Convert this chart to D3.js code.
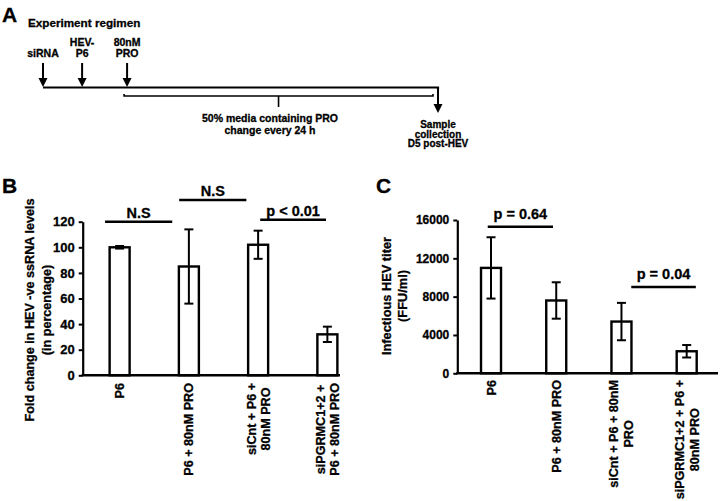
<!DOCTYPE html>
<html>
<head>
<meta charset="utf-8">
<script src="https://cdn.jsdelivr.net/npm/d3@7"></script>
<style>
  body { margin: 0; background: #fff; }
  svg { display: block; font-family: Arial, "Liberation Sans", sans-serif; font-weight: bold; }
  svg text { stroke: #000; stroke-width: 0.3px; }
</style>
</head>
<body>
<script>
// ---- data ----
const groups = ["P6", "P6 + 80nM PRO", "siCnt + P6 + 80nM PRO", "siPGRMC1+2 + P6 + 80nM PRO"];
const labelsB = [["P6"], ["P6 + 80nM PRO"], ["siCnt + P6 +", "80nM PRO"], ["siPGRMC1+2 +", "P6 + 80nM PRO"]];
const labelsC = [["P6"], ["P6 + 80nM PRO"], ["siCnt + P6 + 80nM", "PRO"], ["siPGRMC1+2 + P6 +", "80nM PRO"]];

const valuesB = [100, 85, 102, 32];
const errorsB = [1, 29, 11, 6];
const ticksB = [0, 20, 40, 60, 80, 100, 120];

const valuesC = [11000, 7600, 5400, 2300];
const errorsC = [3200, 1900, 1950, 650];
const ticksC = [0, 4000, 8000, 12000, 16000];

// significance bars: start/end in group index units, height in data units
const sigB = [
  { from: -0.21, to: 0.76, level: 120, text: "N.S" },
  { from: 0.86, to: 1.83, level: 137, text: "N.S" },
  { from: 2.03, to: 2.98, level: 121.5, text: "p < 0.01" }
];
const sigC = [
  { from: -0.05, to: 0.95, level: 15300, text: "p = 0.64" },
  { from: 2.15, to: 3.14, level: 9000, text: "p = 0.04" }
];

// experiment regimen timeline (arbitrary time units)
const regimenEvents = [["siRNA"], ["HEV-", "P6"], ["80nM", "PRO"]];
const regimenTimes = [0, 1, 2.15];
const sampleTime = 10.1;
const mediaText = ["50% media containing PRO", "change every 24 h"];
const sampleText = ["Sample", "collection", "D5 post-HEV"];

const W = 720, H = 501;
const svg = d3.select("body").append("svg").attr("width", W).attr("height", H);

// panel letters
svg.append("text").attr("x", 2).attr("y", 22).attr("font-size", 21).text("A");
svg.append("text").attr("x", 2).attr("y", 193).attr("font-size", 21).text("B");
svg.append("text").attr("x", 376).attr("y", 193).attr("font-size", 21).text("C");

// ---- panel A ----
const tx = d3.scaleLinear().domain([0, sampleTime]).range([43, 438]);
const lineY = 87.5;
const gA = svg.append("g");
gA.append("text").attr("x", 28).attr("y", 27).attr("font-size", 11.7).text("Experiment  regimen");

function arrowDown(g, x, y0, y1) {
  g.append("line").attr("x1", x).attr("x2", x).attr("y1", y0).attr("y2", y1 - 7)
    .attr("stroke", "#000").attr("stroke-width", 2);
  g.append("path").attr("d", `M${x - 4.5},${y1 - 9}L${x + 4.5},${y1 - 9}L${x},${y1}Z`).attr("fill", "#000");
}

regimenEvents.forEach((lines, i) => {
  const x = tx(regimenTimes[i]);
  const t = gA.append("text").attr("text-anchor", "middle").attr("font-size", 10.5);
  lines.forEach((l, j) => {
    t.append("tspan").attr("x", x).attr("y", 57 - (lines.length - 1 - j) * 11.5).text(l);
  });
  arrowDown(gA, x, 63, 87);
});
gA.append("path")
  .attr("d", `M${tx(0)},${lineY}H${tx(sampleTime)}V${lineY + 2}`)
  .attr("fill", "none").attr("stroke", "#000").attr("stroke-width", 2.2);
arrowDown(gA, tx(sampleTime), lineY, 113);

// bracket for media change
const bx0 = tx(regimenTimes[2]) - 3, bx1 = tx(sampleTime) - 5, bY = 96;
gA.append("path")
  .attr("d", `M${bx0},${bY - 2}V${bY}H${bx1}V${bY - 2}M${(bx0 + bx1) / 2},${bY}V${bY + 11}`)
  .attr("fill", "none").attr("stroke", "#000").attr("stroke-width", 1.6);
const mt = gA.append("text").attr("text-anchor", "middle").attr("font-size", 10.5);
mediaText.forEach((l, j) => mt.append("tspan").attr("x", 270).attr("y", 122 + j * 11.5).text(l));
const st = gA.append("text").attr("text-anchor", "middle").attr("font-size", 10);
sampleText.forEach((l, j) => st.append("tspan").attr("x", tx(sampleTime)).attr("y", 128 + j * 9.6).text(l));

// ---- bar panels ----
function barPanel(opt) {
  const g = svg.append("g");
  const x = d3.scalePoint().domain(groups).range(opt.xRange).padding(0.5);
  const step = x.step();
  const y = d3.scaleLinear().domain(opt.yDomain).range(opt.yRange);
  const bw = 20;

  // y axis
  const ya = g.append("g").attr("transform", `translate(${opt.axisX},0)`)
    .call(d3.axisLeft(y).tickValues(opt.ticks).tickFormat(d3.format("d"))
      .tickSize(4).tickSizeOuter(0).tickPadding(4));
  ya.select(".domain").attr("stroke-width", 2.2);
  ya.selectAll(".tick line").attr("stroke-width", 2);
  ya.selectAll(".tick text").attr("font-size", opt.tickSize).attr("font-family", null).attr("font-weight", "bold");

  // bars
  g.selectAll("rect.bar").data(opt.values).join("rect").attr("class", "bar")
    .attr("x", (d, i) => x(groups[i]) - bw / 2)
    .attr("width", bw)
    .attr("y", d => y(d))
    .attr("height", d => y(0) - y(d))
    .attr("fill", "#fff").attr("stroke", "#000").attr("stroke-width", 2.4);

  // error bars
  const eg = g.selectAll("g.err").data(opt.values).join("g").attr("class", "err")
    .attr("stroke", "#000").attr("stroke-width", 2);
  eg.append("line")
    .attr("x1", (d, i) => x(groups[i])).attr("x2", (d, i) => x(groups[i]))
    .attr("y1", (d, i) => y(d + opt.errors[i])).attr("y2", (d, i) => y(d - opt.errors[i]));
  [1, -1].forEach(s => {
    eg.append("line")
      .attr("x1", (d, i) => x(groups[i]) - 4.5).attr("x2", (d, i) => x(groups[i]) + 4.5)
      .attr("y1", (d, i) => y(d + s * opt.errors[i])).attr("y2", (d, i) => y(d + s * opt.errors[i]));
  });

  // x axis line
  g.append("line").attr("x1", opt.axisX - 1).attr("x2", opt.axisEnd)
    .attr("y1", y(0)).attr("y2", y(0)).attr("stroke", "#000").attr("stroke-width", 2.4);

  // x labels (rotated, lines centred on each other)
  opt.labels.forEach((lines, i) => {
    const lg = g.append("g").attr("transform", `translate(${x(groups[i])},${opt.labelTop}) rotate(-90)`);
    const texts = lines.map((l, j) => lg.append("text")
      .attr("font-size", 12.6).attr("text-anchor", "middle")
      .attr("y", (j - (lines.length - 1) / 2) * opt.lineGap + 4.5).text(l));
    const maxLen = d3.max(texts, t => t.node().getComputedTextLength());
    texts.forEach(t => t.attr("x", -maxLen / 2));
  });

  // significance bars
  const x0 = x(groups[0]);
  opt.sig.forEach(s => {
    g.append("line")
      .attr("x1", x0 + s.from * step).attr("x2", x0 + s.to * step)
      .attr("y1", y(s.level)).attr("y2", y(s.level))
      .attr("stroke", "#000").attr("stroke-width", 2.4);
    g.append("text").attr("x", x0 + (s.from + s.to) / 2 * step).attr("y", y(s.level) - opt.sigGap)
      .attr("text-anchor", "middle").attr("font-size", 14.5).text(s.text);
  });

  // y title
  const yt = g.append("g").attr("transform", `translate(${opt.titleX},${opt.titleY}) rotate(-90)`);
  opt.title.forEach((l, j) => yt.append("text").attr("text-anchor", "middle")
    .attr("y", j * opt.titleGap).attr("font-size", opt.titleSize).text(l));
}

barPanel({
  xRange: [85, 362], axisX: 82.7, axisEnd: 340,
  yDomain: [0, 120], yRange: [375.3, 221.7], ticks: ticksB, tickSize: 13,
  values: valuesB, errors: errorsB, labels: labelsB, labelTop: 383, lineGap: 14,
  sig: sigB, sigGap: 4, title: ["Fold change in HEV -ve ssRNA levels", "(in percentage)"],
  titleX: 34.4, titleY: 310, titleSize: 12.6, titleGap: 17
});

barPanel({
  xRange: [458.4, 719.3], axisX: 457.3, axisEnd: 718,
  yDomain: [0, 16000], yRange: [373.3, 220], ticks: ticksC, tickSize: 12,
  values: valuesC, errors: errorsC, labels: labelsC, labelTop: 380, lineGap: 15,
  sig: sigC, sigGap: 8, title: ["Infectious HEV titer", "(FFU/ml)"],
  titleX: 390.5, titleY: 296, titleSize: 12.8, titleGap: 16.5
});
</script>
</body>
</html>
